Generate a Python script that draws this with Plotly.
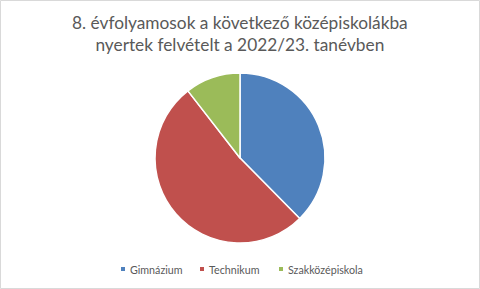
import plotly.graph_objects as go

# Share of admissions by school type (%)
categories = ["Gimnázium", "Technikum", "Szakközépiskola"]
values = [37.6, 51.9, 10.5]
colors = ["#4F81BD", "#C0504D", "#9BBB59"]
title_lines = ["8. évfolyamosok a következő középiskolákba",
               "nyertek felvételt a 2022/23. tanévben"]

W, H = 480, 289
font_family = "Lato, 'Open Sans', sans-serif"
text_color = "#595959"

fig = go.Figure()
fig.add_trace(go.Pie(
    labels=categories,
    values=values,
    sort=False,
    direction="clockwise",
    rotation=0,
    textinfo="none",
    hoverinfo="label+percent",
    marker=dict(colors=colors, line=dict(color="white", width=1.5)),
    domain=dict(x=[155 / W, 325 / W], y=[1 - 243 / H, 1 - 73 / H]),
    showlegend=False,
))

# Title
fig.add_annotation(
    text="<br>".join(title_lines),
    x=0.5, y=1 - 10 / H, xref="paper", yref="paper",
    xanchor="center", yanchor="top", showarrow=False,
    font=dict(family=font_family, size=17.3, color=text_color),
)

# Legend row: small square swatch followed by its label
legend_x = [121, 200, 279]
legend_y = 269
for name, col, lx in zip(categories, colors, legend_x):
    fig.add_shape(type="rect", xref="paper", yref="paper",
                  x0=lx / W, x1=(lx + 4) / W,
                  y0=1 - (legend_y + 2) / H, y1=1 - (legend_y - 2) / H,
                  fillcolor=col, line=dict(width=0))
    fig.add_annotation(text=name, x=(lx + 7) / W, y=1 - legend_y / H,
                       xref="paper", yref="paper", xanchor="left",
                       yanchor="middle", showarrow=False,
                       font=dict(family=font_family, size=10.7, color=text_color))

# Chart area border
fig.add_shape(type="rect", xref="paper", yref="paper",
              x0=0.5 / W, x1=1 - 0.5 / W, y0=0.5 / H, y1=1 - 0.5 / H,
              line=dict(color="#D9D9D9", width=1), fillcolor="rgba(0,0,0,0)")

fig.update_layout(
    width=W, height=H,
    margin=dict(l=0, r=0, t=0, b=0),
    paper_bgcolor="white", plot_bgcolor="white",
)

fig.write_html("out.html", config={"displayModeBar": False})
